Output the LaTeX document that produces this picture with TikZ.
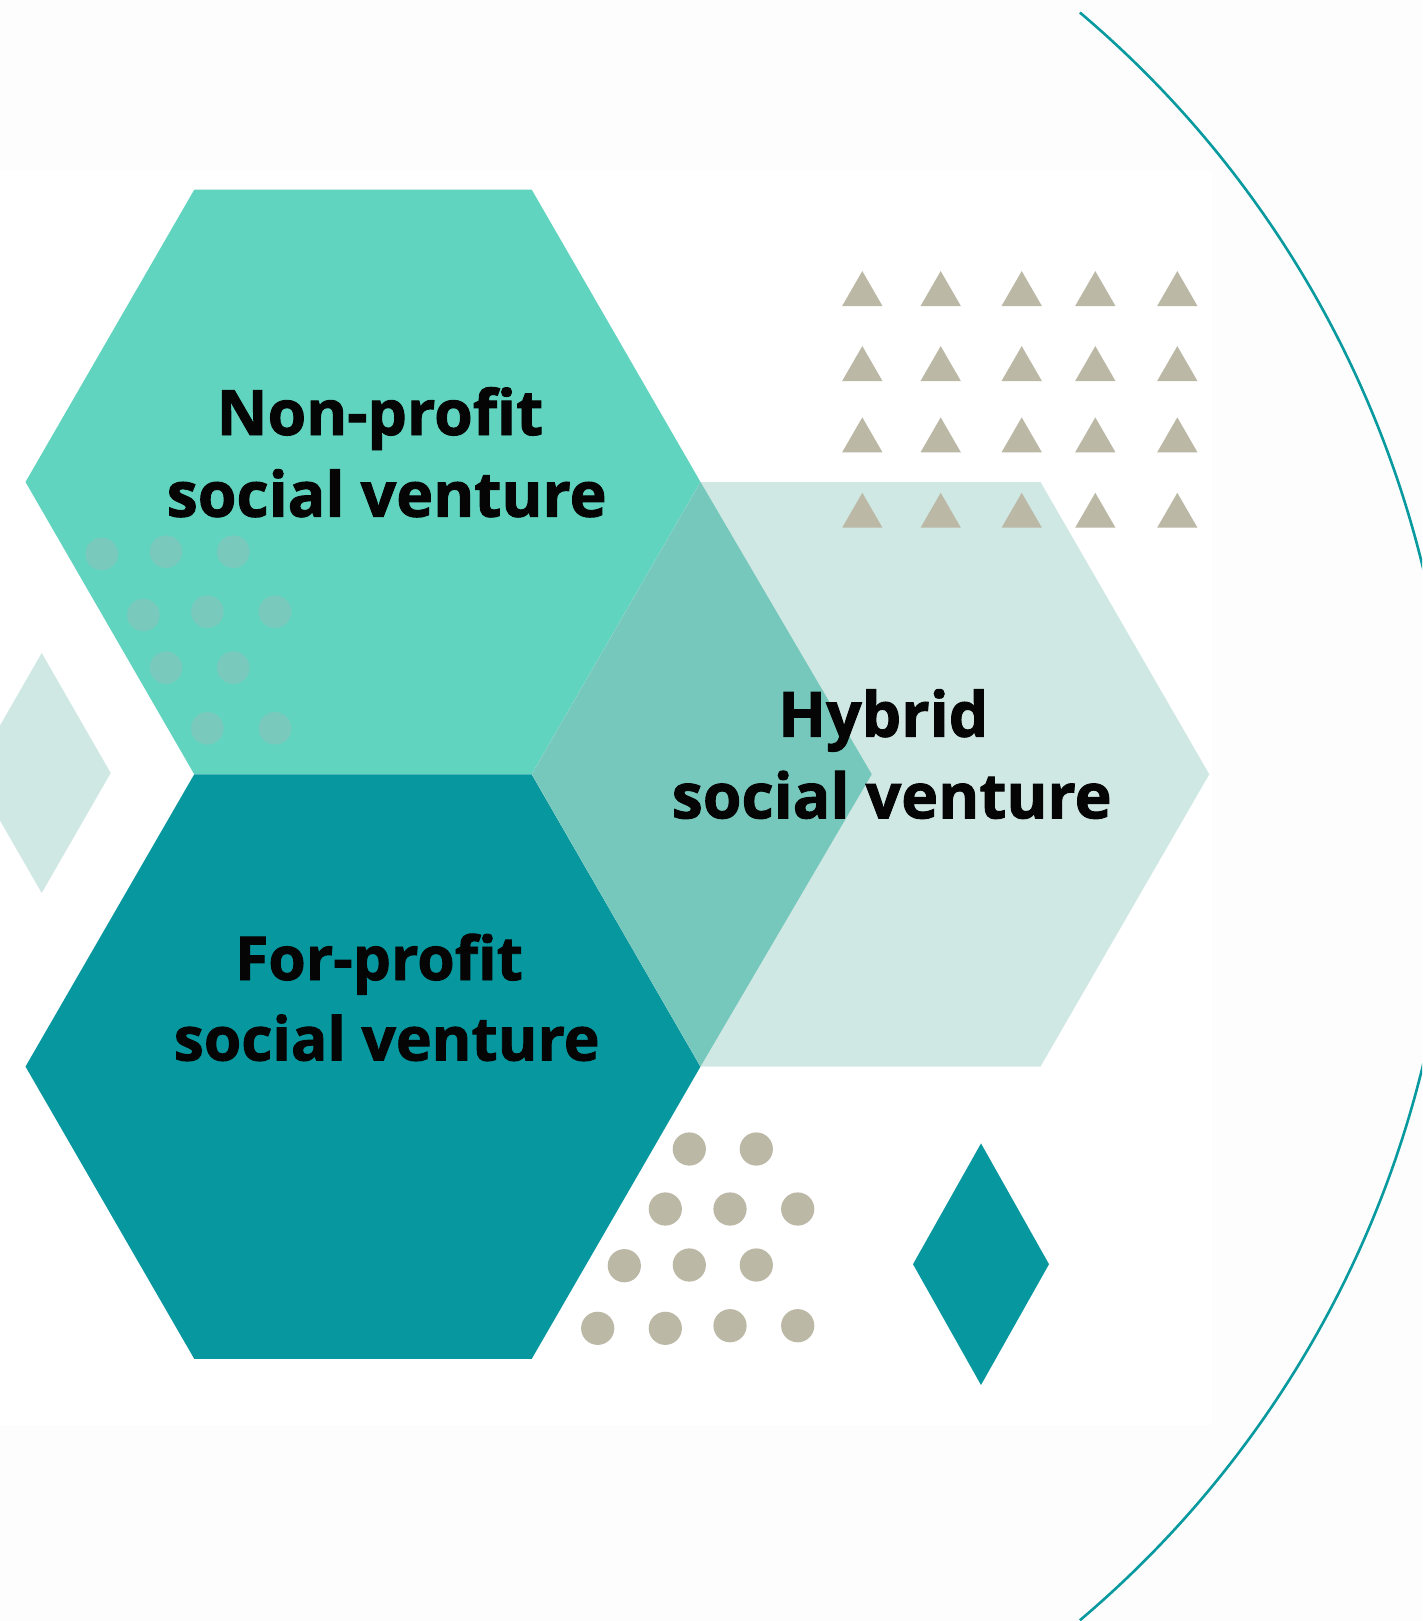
\documentclass[tikz,border=0pt]{standalone}
\usepackage{fontspec}
\setmainfont{Open Sans}[BoldFeatures={FakeBold=1.5}]
\definecolor{bgrey}{HTML}{FDFDFD}
\definecolor{mint}{HTML}{60D4BF}
\definecolor{teal}{HTML}{06979F}
\definecolor{pale}{HTML}{D0E8E4}
\definecolor{mid}{HTML}{77C8BC}
\definecolor{faint}{HTML}{79C9BD}
\definecolor{tan}{HTML}{BBB8A6}
\definecolor{arcteal}{HTML}{089A9F}
\definecolor{ink}{HTML}{050505}
\begin{document}
\begin{tikzpicture}[x=1pt,y=-1pt,
  lbl/.style={inner sep=0pt, anchor=base, text=ink, font=\bfseries\fontsize{62.5}{80}\selectfont},
  lblsmall/.style={lbl, font=\bfseries\fontsize{60.5}{80}\selectfont},
  tandot/.style={fill=tan},
  faintdot/.style={fill=faint}]
\useasboundingbox (0,0) rectangle (1422,1621);
\clip (0,0) rectangle (1422,1621);
% background
\fill[bgrey] (0,0) rectangle (1422,1621);
\fill[white] (0,170) rectangle (1212,1425);
% hexagons
\fill[mint] (700.5,482) -- (531.75,189.72) -- (194.25,189.72) -- (25.5,482) -- (194.25,774.28) -- (531.75,774.28) -- cycle;
\fill[teal] (700.5,1066.56) -- (531.75,774.28) -- (194.25,774.28) -- (25.5,1066.56) -- (194.25,1358.84) -- (531.75,1358.84) -- cycle;
\fill[pale] (1209.25,774.28) -- (1040.5,482) -- (700.5,482) -- (531.75,774.28) -- (700.5,1066.56) -- (1040.5,1066.56) -- cycle;
\fill[mid] (700.5,482) -- (871.75,774.28) -- (700.5,1066.56) -- (531.75,774.28) -- cycle;
% faint dots in the non-profit hexagon
\foreach \x/\y in {101.7/554,166/551.7,233.3/551.7,143.3/615,207.3/611.7,275/611.7,166/667.7,233.3/667.7,207.3/728.3,275/728.3}
  \fill[faintdot] (\x,\y) circle[radius=16.3];
% diamonds
\fill[pale] (41.7,653) -- (110.7,773) -- (41.7,893) -- (-27.3,773) -- cycle;
\fill[teal] (981,1143.4) -- (1049,1264.2) -- (981,1385) -- (913,1264.2) -- cycle;
% triangles
\foreach \cx in {862.3,940.7,1021.7,1095.3,1177.3}
  \foreach \by in {306,381,452.3,527.7}
    \fill[tan] (\cx-20.15,\by) -- (\cx+20.15,\by) -- (\cx,\by-34.9) -- cycle;
% tan dots
\foreach \x/\y in {689.3/1149,756.3/1149,665.3/1209,730/1209,797.7/1209,624.3/1265.7,689.3/1265,756.3/1265,597.7/1328.3,665.3/1328.3,730/1325.7,797.7/1325.7}
  \fill[tandot] (\x,\y) circle[radius=16.6];
% arc
\draw[arcteal, line width=2.6pt] (399.8,816.4) ++(-49.77:1053) arc[start angle=-49.77, end angle=49.77, radius=1053];
% labels
\node[lbl] (np1) at (380,435) {Non-profit};
\node[lbl] (np2) at (386.7,516.7) {social venture};
\node[lbl] (hy1) at (883.3,736.7) {Hybrid};
\node[lbl] (hy2) at (891.7,818.3) {social venture};
\node[lblsmall] (fp1) at (379,980) {For-profit};
\node[lblsmall] (fp2) at (386.7,1060.5) {social venture};
\end{tikzpicture}
\end{document}
